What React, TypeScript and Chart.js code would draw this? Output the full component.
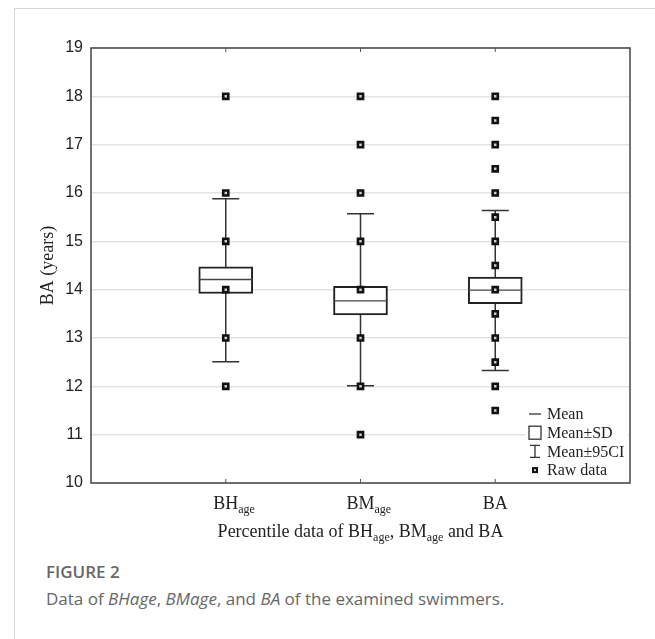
import React, { useEffect, useRef } from 'react';
import { Chart, registerables } from 'chart.js';

Chart.register(...registerables);

// ---- data ----
const labelMain = ['BH', 'BM', 'BA'];
const labelSub = ['age', 'age', ''];
const meanValues = [14.21, 13.77, 13.99];
const sdLower = [13.92, 13.48, 13.71];
const sdUpper = [14.47, 14.07, 14.26];
const ciLower = [12.51, 12.01, 12.33];
const ciUpper = [15.88, 15.57, 15.64];
const rawBH = [18, 16, 15, 14, 13, 12];
const rawBM = [18, 17, 16, 15, 14, 13, 12, 11];
const rawBA = [18, 17.5, 17, 16.5, 16, 15.5, 15, 14.5, 14, 13.5, 13, 12.5, 12, 11.5];
const rawData = [rawBH, rawBM, rawBA];
const yMin = 10;
const yMax = 19;
const yStep = 1;
const yTitle = 'BA (years)';
const xTitleParts: [string, boolean][] = [
  ['Percentile data of BH', false],
  ['age', true],
  [', BM', false],
  ['age', true],
  [' and BA', false],
];
const legendItems = ['Mean', 'Mean\u00b1SD', 'Mean\u00b195CI', 'Raw data'];

const SERIF = '"Liberation Serif", "Times New Roman", serif';
const SANS = '"Liberation Sans", Arial, sans-serif';
const INK = '#222';

const extrasPlugin = {
  id: 'boxExtras',
  beforeDatasetsDraw(chart: any) {
    const { ctx, scales } = chart;
    const x = scales.x, y = scales.y;
    ctx.save();
    ctx.strokeStyle = '#333';
    ctx.lineWidth = 1.5;
    for (let i = 0; i < labelMain.length; i++) {
      const px = x.getPixelForValue(i + 1);
      const y1 = y.getPixelForValue(ciLower[i]);
      const y2 = y.getPixelForValue(ciUpper[i]);
      ctx.beginPath();
      ctx.moveTo(px, y1);
      ctx.lineTo(px, y2);
      ctx.moveTo(px - 13.5, y1);
      ctx.lineTo(px + 13.5, y1);
      ctx.moveTo(px - 13.5, y2);
      ctx.lineTo(px + 13.5, y2);
      ctx.stroke();
    }
    ctx.restore();
  },
  afterDatasetDraw(chart: any, args: any) {
    if (args.index !== 0) return;
    const { ctx, scales } = chart;
    const meta = chart.getDatasetMeta(0);
    ctx.save();
    ctx.strokeStyle = '#444';
    ctx.lineWidth = 1.3;
    for (let i = 0; i < labelMain.length; i++) {
      const bar = meta.data[i];
      const w = bar.width;
      const py = scales.y.getPixelForValue(meanValues[i]);
      ctx.beginPath();
      ctx.moveTo(bar.x - w / 2, py);
      ctx.lineTo(bar.x + w / 2, py);
      ctx.stroke();
    }
    ctx.restore();
  },
  afterDraw(chart: any) {
    const { ctx, chartArea: a, scales } = chart;
    const x = scales.x;
    ctx.save();
    // frame
    ctx.strokeStyle = '#444';
    ctx.lineWidth = 1.5;
    ctx.strokeRect(a.left, a.top, a.right - a.left, a.bottom - a.top);
    // inward ticks at categories (top & bottom)
    ctx.lineWidth = 1;
    ctx.strokeStyle = '#555';
    ctx.beginPath();
    for (let i = 0; i < labelMain.length; i++) {
      const px = x.getPixelForValue(i + 1);
      ctx.moveTo(px, a.top);
      ctx.lineTo(px, a.top + 4);
      ctx.moveTo(px, a.bottom);
      ctx.lineTo(px, a.bottom - 4);
    }
    ctx.stroke();

    // x category labels with subscripts
    ctx.fillStyle = INK;
    ctx.textBaseline = 'alphabetic';
    ctx.textAlign = 'left';
    const mainFont = `18px ${SERIF}`;
    const subFont = `12px ${SERIF}`;
    const labBase = a.bottom + 26;
    for (let i = 0; i < labelMain.length; i++) {
      const px = x.getPixelForValue(i + 1);
      ctx.font = mainFont;
      const mw = ctx.measureText(labelMain[i]).width;
      const sx = px - mw / 2;
      ctx.fillText(labelMain[i], sx, labBase);
      if (labelSub[i]) {
        ctx.font = subFont;
        ctx.fillText(labelSub[i], sx + mw, labBase + 4);
      }
    }
    // x title with subscripts
    const titleBase = a.bottom + 54;
    let total = 0;
    for (const [t, sub] of xTitleParts) {
      ctx.font = sub ? subFont : mainFont;
      total += ctx.measureText(t).width;
    }
    let cx = (a.left + a.right) / 2 - total / 2;
    for (const [t, sub] of xTitleParts) {
      ctx.font = sub ? subFont : mainFont;
      ctx.fillText(t, cx, titleBase + (sub ? 4 : 0));
      cx += ctx.measureText(t).width;
    }

    // legend
    const lx = a.right - 101;
    const ly = a.bottom - 69;
    const rowH = 18.7;
    ctx.fillStyle = '#fff';
    ctx.fillRect(lx - 4, ly - 10, 103, 76);
    ctx.font = `16px ${SERIF}`;
    ctx.fillStyle = INK;
    ctx.textBaseline = 'middle';
    ctx.strokeStyle = '#333';
    ctx.lineWidth = 1.3;
    const sx = lx + 6; // symbol center
    for (let k = 0; k < legendItems.length; k++) {
      const cy = ly + k * rowH;
      ctx.beginPath();
      if (k === 0) {
        ctx.moveTo(sx - 6, cy);
        ctx.lineTo(sx + 6, cy);
        ctx.stroke();
      } else if (k === 1) {
        ctx.strokeRect(sx - 6, cy - 6.5, 12, 13);
      } else if (k === 2) {
        ctx.moveTo(sx, cy - 6);
        ctx.lineTo(sx, cy + 6);
        ctx.moveTo(sx - 5, cy - 6);
        ctx.lineTo(sx + 5, cy - 6);
        ctx.moveTo(sx - 5, cy + 6);
        ctx.lineTo(sx + 5, cy + 6);
        ctx.stroke();
      } else {
        ctx.fillStyle = '#111';
        ctx.fillRect(sx - 3, cy - 3, 6, 6);
        ctx.fillStyle = '#ccc';
        ctx.fillRect(sx - 1, cy - 1, 2, 2);
        ctx.fillStyle = INK;
      }
      ctx.fillText(legendItems[k], lx + 18, cy + 1);
    }
    ctx.restore();
  },
};

export default function App() {
  const ref = useRef<HTMLCanvasElement>(null);
  useEffect(() => {
    const canvas = ref.current!;
    const boxData = labelMain.map((_, i) => ({ x: i + 1, y: [sdLower[i], sdUpper[i]] }));
    const pointData: { x: number; y: number }[] = [];
    rawData.forEach((arr, i) => arr.forEach((v) => pointData.push({ x: i + 1, y: v })));
    const chart = new Chart(canvas, {
      type: 'scatter',
      data: {
        datasets: [
          {
            type: 'bar',
            label: 'Mean\u00b1SD',
            data: boxData as any,
            backgroundColor: '#fff',
            borderColor: '#222',
            borderWidth: 2,
            borderSkipped: false,
            barThickness: 54,
            order: 2,
          } as any,
          {
            type: 'scatter',
            label: 'Raw data',
            data: pointData,
            pointStyle: 'rect',
            pointRadius: 3.6,
            pointBorderWidth: 2.6,
            pointBackgroundColor: '#cfcfcf',
            pointBorderColor: '#111',
            order: 1,
          } as any,
        ],
      },
      options: {
        animation: false,
        responsive: false,
        devicePixelRatio: 1,
        layout: { padding: { left: 37, top: 48, right: 25, bottom: 77 } },
        plugins: { legend: { display: false }, tooltip: { enabled: false } },
        scales: {
          x: { type: 'linear', min: 0, max: 4, offset: false, display: false, grid: { offset: false } },
          y: {
            type: 'linear',
            min: yMin,
            max: yMax,
            ticks: {
              stepSize: yStep,
              color: INK,
              padding: 8,
              font: { family: SANS, size: 16 },
            },
            grid: { color: '#e3e3e3', lineWidth: 1.5, drawTicks: false },
            border: { display: false },
            title: {
              display: true,
              text: yTitle,
              color: INK,
              padding: 0,
              font: { family: SERIF, size: 18 },
            },
            afterFit(scale: any) {
              scale.width = 54;
            },
          },
        },
      },
      plugins: [extrasPlugin],
    } as any);
    return () => chart.destroy();
  }, []);

  return (
    <div style={{ position: 'absolute', left: 0, top: 0, width: 655, height: 639, background: '#fff', overflow: 'hidden' }}>
      <div
        style={{
          position: 'absolute',
          left: 14,
          top: 8,
          right: 0,
          bottom: 0,
          borderTop: '1px solid #d8d8d8',
          borderLeft: '1px solid #d8d8d8',
        }}
      />
      <canvas ref={ref} width={655} height={560} style={{ position: 'absolute', left: 0, top: 0, width: 655, height: 560 }} />
      <div
        style={{
          position: 'absolute',
          left: 46,
          top: 562,
          fontFamily: '"Open Sans", "Noto Sans", sans-serif',
          fontSize: 17,
          lineHeight: '20px',
          fontWeight: 600,
          color: '#666',
          whiteSpace: 'nowrap',
        }}
      >
        FIGURE 2
      </div>
      <div
        style={{
          position: 'absolute',
          left: 46,
          top: 589,
          fontFamily: '"Open Sans", "Noto Sans", sans-serif',
          fontSize: 17,
          lineHeight: '20px',
          color: '#666',
          whiteSpace: 'nowrap',
        }}
      >
        Data of <i>BHage</i>, <i>BMage</i>, and <i>BA</i> of the examined swimmers.
      </div>
    </div>
  );
}
